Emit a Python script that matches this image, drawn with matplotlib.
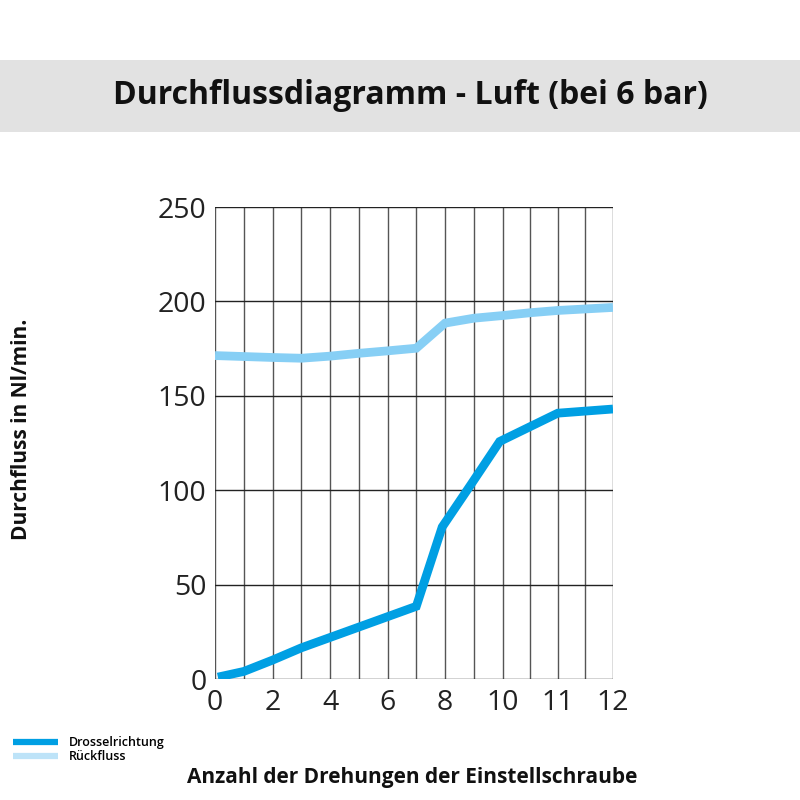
import matplotlib
matplotlib.use("Agg")
import matplotlib.pyplot as plt
from matplotlib.lines import Line2D
from matplotlib.patches import Rectangle

# Grid positions (horizontal axis is drawn on a grid of 14 columns; labels are non-uniform)
grid_pos = [0, 1, 2, 3, 4, 5, 6, 7, 8, 9, 10, 10.96, 11.92, 12.88, 13.84]
tick_pos = [0, 2, 4, 6, 8, 10, 11.92, 13.84]
tick_labels = ["0", "2", "4", "6", "8", "10", "11", "12"]
y_ticks = [0, 50, 100, 150, 200, 250]

# Drosselrichtung (throttle direction)
drossel_x = [0.1, 1, 2, 3, 4, 5, 6, 7, 7.9, 8.9, 9.9, 11.92, 13.84]
drossel_y = [1, 4, 10, 16.5, 22, 27.5, 33, 38.5, 80.5, 103, 125.8, 140.8, 143]

# Rückfluss (return flow)
rueck_x = [0, 1, 2, 3, 4, 5, 6, 7, 8, 9, 10, 10.96, 11.92, 13.84]
rueck_y = [171.3, 170.8, 170.3, 169.9, 171, 172.5, 173.8, 175.2, 188.5, 191.1, 192.5, 194, 195.2, 196.8]

title = "Durchflussdiagramm - Luft (bei 6 bar)"
xlabel = "Anzahl der Drehungen der Einstellschraube"
ylabel = "Durchfluss in Nl/min."
legend_labels = ["Drosselrichtung", "Rückfluss"]

DARK = "#009FE3"
LIGHT = "#87CFF5"
LIGHT_LEG = "#BDE3F8"

plt.rcParams["font.family"] = ["Open Sans", "DejaVu Sans"]

fig = plt.figure(figsize=(8, 8), dpi=100)
W = H = 800.0

# title band
fig.patches.append(Rectangle((0, 1 - 132 / H), 1, 72 / H, transform=fig.transFigure,
                             facecolor="#E2E2E2", edgecolor="none", zorder=0))
fig.text(410 / W, 1 - 95 / H, title, ha="center", va="center", fontsize=23,
         fontweight="bold", color="#111111")

ax = fig.add_axes([215 / W, 1 - 679 / H, 398 / W, 472 / H])
ax.set_xlim(0, 13.84)
ax.set_ylim(0, 250)

for gx in grid_pos:
    ax.axvline(gx, color="#555555", lw=1.0, zorder=1)
for gy in y_ticks:
    ax.axhline(gy, color="#222222", lw=1.0, zorder=1)

ax.plot(rueck_x, rueck_y, color=LIGHT, lw=6.3, solid_joinstyle="miter",
        solid_capstyle="butt", zorder=3)
ax.plot(drossel_x, drossel_y, color=DARK, lw=6.3, solid_joinstyle="miter",
        solid_capstyle="butt", zorder=4)

for s in ax.spines.values():
    s.set_visible(False)
ax.set_xticks(tick_pos)
ax.set_xticklabels(tick_labels)
ax.set_yticks(y_ticks)
ax.tick_params(length=0, labelsize=20.5, colors="#222222")
ax.tick_params(axis="y", pad=6)
ax.tick_params(axis="x", pad=7)

fig.text(22 / W, 1 - 429 / H, ylabel, rotation=90, ha="center", va="center",
         fontsize=15, fontweight="bold", color="#111111")
fig.text(412 / W, 1 - 778 / H, xlabel, ha="center", va="center",
         fontsize=15, fontweight="bold", color="#111111")

handles = [Line2D([], [], color=DARK, lw=4.5, solid_capstyle="butt"),
           Line2D([], [], color=LIGHT_LEG, lw=4.5, solid_capstyle="butt")]
fig.legend(handles, legend_labels, loc="upper left",
           bbox_to_anchor=(2 / W, 1 - 725 / H), frameon=False,
           handlelength=3.6, handletextpad=0.85, labelspacing=0.05,
           prop={"family": ["Open Sans", "DejaVu Sans"], "weight": "semibold", "size": 9})

fig.savefig("out.png", dpi=100)
